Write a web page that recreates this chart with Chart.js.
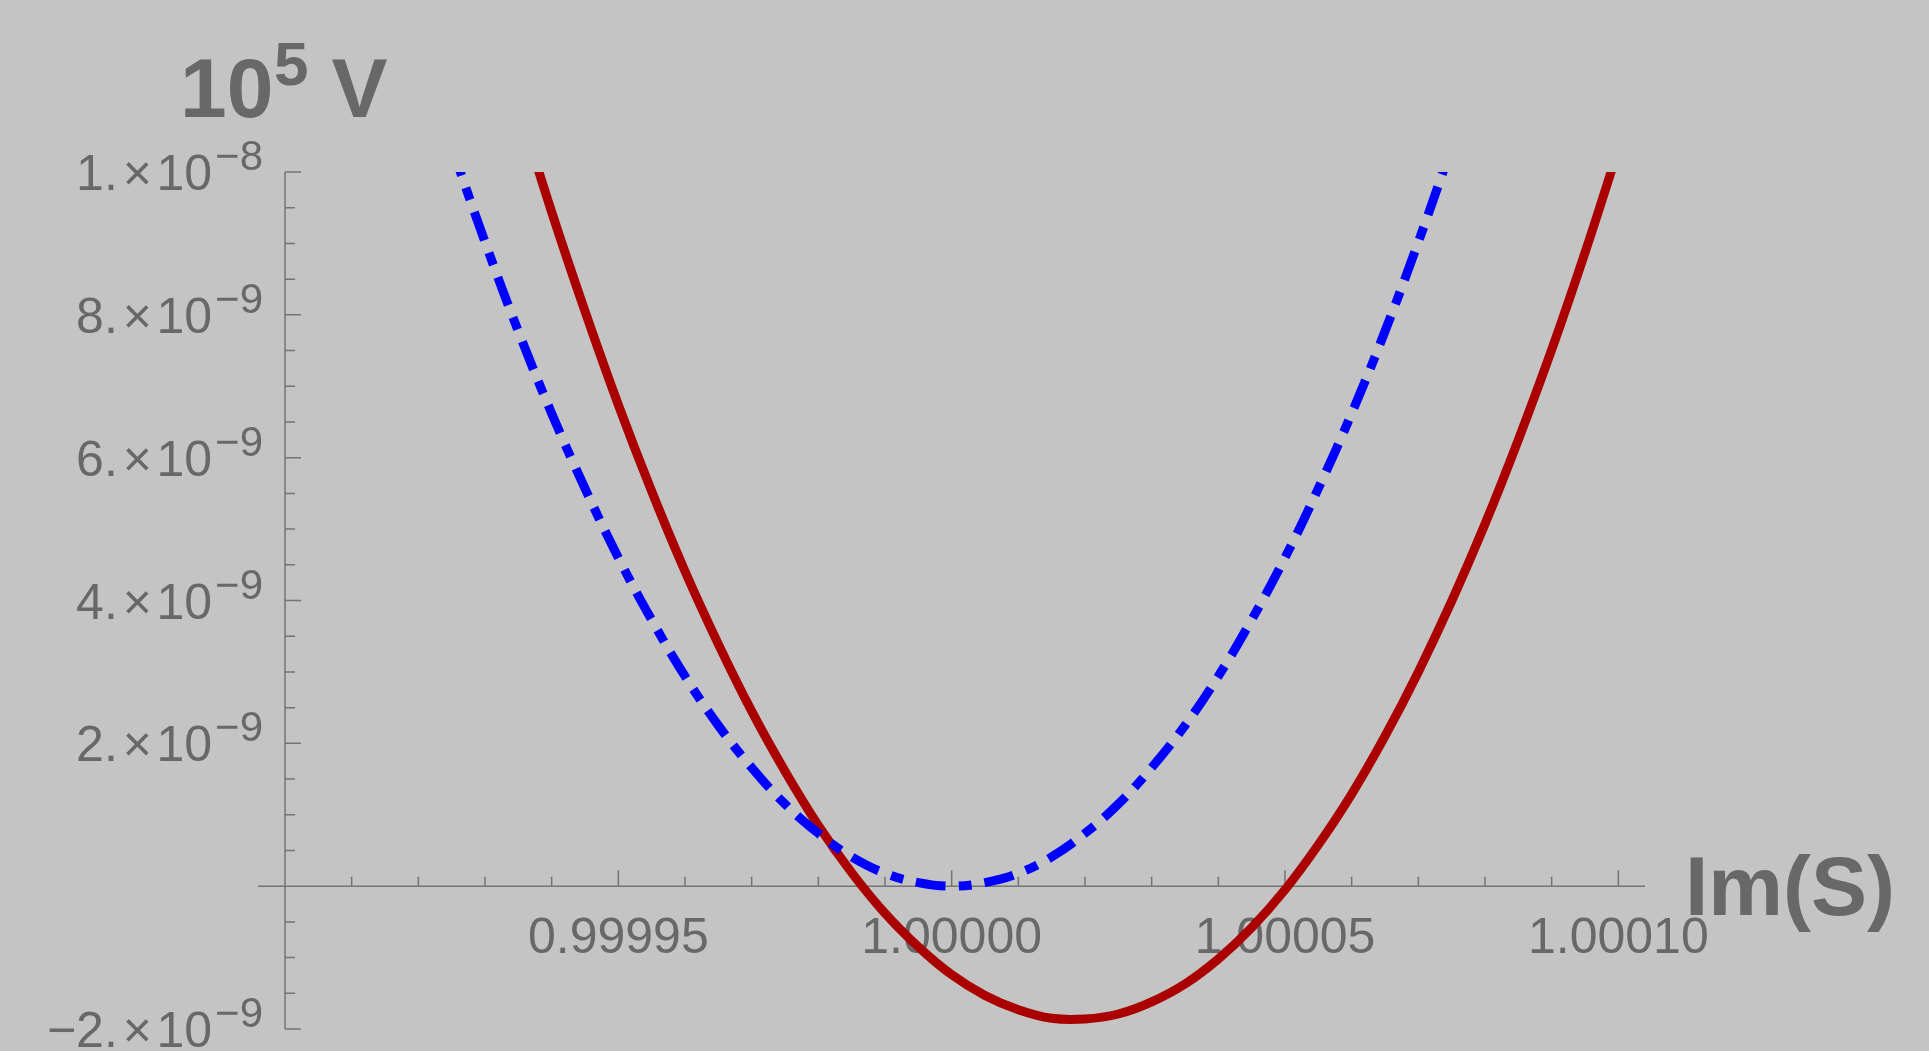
<!DOCTYPE html>
<html>
<head>
<meta charset="utf-8">
<title>10^5 V vs Im(S)</title>
<script src="https://cdn.jsdelivr.net/npm/chart.js@4.4.1/dist/chart.umd.min.js"></script>
<style>
  html, body { margin: 0; padding: 0; background: #c3c4c3; overflow: hidden; }
  canvas { display: block; }
</style>
</head>
<body>
<canvas id="chart" width="1929" height="1051"></canvas>
<script>
// ---------------------------------------------------------------------------
//  Data - V values in units of 1e-9
// ---------------------------------------------------------------------------

const blueX = [
  0.999925, 0.99993, 0.999935, 0.99994, 0.999945, 0.99995, 0.999955, 0.99996,
  0.999965, 0.99997, 0.999975, 0.99998, 0.999985, 0.99999, 0.999995, 1.0,
  1.000005, 1.00001, 1.000015, 1.00002, 1.000025, 1.00003, 1.000035, 1.00004,
  1.000045, 1.00005, 1.000055, 1.00006, 1.000065, 1.00007, 1.000075,
];
const blueV = [
  10.35, 9.02, 7.77, 6.62, 5.57, 4.60, 3.73, 2.94,
  2.25, 1.66, 1.15, 0.74, 0.41, 0.18, 0.05, 0.0,
  0.05, 0.18, 0.41, 0.74, 1.15, 1.66, 2.25, 2.94,
  3.73, 4.60, 5.57, 6.62, 7.77, 9.02, 10.35,
];

const redX = [
  0.999935, 0.99994, 0.999945, 0.99995, 0.999955, 0.99996, 0.999965, 0.99997,
  0.999975, 0.99998, 0.999985, 0.99999, 0.999995, 1.0, 1.000005, 1.00001,
  1.000015, 1.00002, 1.000025, 1.00003, 1.000035, 1.00004, 1.000045, 1.00005,
  1.000055, 1.00006, 1.000065, 1.00007, 1.000075, 1.00008, 1.000085, 1.00009,
  1.000095, 1.0001,
];
const redV = [
  10.93, 9.44, 8.05, 6.74, 5.53, 4.41, 3.39, 2.45,
  1.61, 0.85, 0.19, -0.38, -0.85, -1.24, -1.53, -1.73,
  -1.85, -1.86, -1.79, -1.62, -1.37, -1.02, -0.58, -0.05,
  0.58, 1.29, 2.10, 3.00, 3.99, 5.07, 6.25, 7.51,
  8.87, 10.32,
];

// ticks
const xMajor       = [0.99995, 1.0, 1.00005, 1.0001];
const xMajorLabels = ['0.99995', '1.00000', '1.00005', '1.00010'];
const xMinor       = [0.99991, 0.99992, 0.99993, 0.99994, 0.99996, 0.99997, 0.99998, 0.99999,
                      1.00001, 1.00002, 1.00003, 1.00004, 1.00006, 1.00007, 1.00008, 1.00009];

const yMajor     = [-2, 2, 4, 6, 8, 10];            // x 1e-9
const yMantissa  = ['\u22122.', '2.', '4.', '6.', '8.', '1.'];
const yExponent  = ['\u22129', '\u22129', '\u22129', '\u22129', '\u22129', '\u22128'];
const yMinor     = [-1.5, -1, -0.5, 0.5, 1, 1.5, 2.5, 3, 3.5, 4.5, 5, 5.5,
                    6.5, 7, 7.5, 8.5, 9, 9.5];

const X_MIN = 0.9999, X_MAX = 1.000104;
const Y_MIN = -2, Y_MAX = 10;

const FONT       = '"Liberation Sans", Arial, Helvetica, sans-serif';
const TEXT_COLOR = '#686868';
const AXIS_COLOR = '#747474';

// ---------------------------------------------------------------------------
//  Mathematica-style axes (drawn through the chart scales)
// ---------------------------------------------------------------------------

function drawSci(ctx, mant, exp, right, cy) {
  const base = cy + 18;
  ctx.font = `50px ${FONT}`;
  const wM  = ctx.measureText(mant).width;
  const wX  = ctx.measureText('\u00d7').width;
  const w10 = ctx.measureText('10').width;
  ctx.font = `42px ${FONT}`;
  const wE  = ctx.measureText(exp).width;

  let x = right - (wM + 5 + wX + 4.5 + w10 + 3 + wE);
  ctx.font = `50px ${FONT}`;
  ctx.fillText(mant, x, base);        x += wM + 5;
  ctx.fillText('\u00d7', x, base);    x += wX + 4.5;
  ctx.fillText('10', x, base);        x += w10 + 3;
  ctx.font = `42px ${FONT}`;
  ctx.fillText(exp, x, base - 20);
}

const axesPlugin = {
  id: 'mmaAxes',
  beforeDatasetsDraw(chart) {
    const { ctx, chartArea: a, scales: { x, y } } = chart;
    const y0 = y.getPixelForValue(0);
    const xL = x.getPixelForValue(X_MIN);

    ctx.save();
    ctx.strokeStyle = AXIS_COLOR;
    ctx.lineWidth = 1.5;
    ctx.beginPath();
    ctx.moveTo(xL - 27, y0);  ctx.lineTo(a.right, y0);
    ctx.moveTo(xL, a.top);    ctx.lineTo(xL, a.bottom);

    xMajor.forEach(v => { const px = x.getPixelForValue(v); ctx.moveTo(px, y0); ctx.lineTo(px, y0 - 16); });
    xMinor.forEach(v => { const px = x.getPixelForValue(v); ctx.moveTo(px, y0); ctx.lineTo(px, y0 - 9.5); });
    yMajor.forEach(v => { const py = y.getPixelForValue(v); ctx.moveTo(xL, py); ctx.lineTo(xL + 16, py); });
    yMinor.forEach(v => { const py = y.getPixelForValue(v); ctx.moveTo(xL, py); ctx.lineTo(xL + 10, py); });
    ctx.stroke();

    // tick labels
    ctx.fillStyle = TEXT_COLOR;
    ctx.font = `50px ${FONT}`;
    ctx.textAlign = 'center';
    ctx.textBaseline = 'alphabetic';
    xMajor.forEach((v, i) => ctx.fillText(xMajorLabels[i], x.getPixelForValue(v), y0 + 67));

    ctx.textAlign = 'left';
    yMajor.forEach((v, i) => drawSci(ctx, yMantissa[i], yExponent[i], xL - 22, y.getPixelForValue(v)));

    // axis labels
    ctx.font = `bold 84px ${FONT}`;
    ctx.fillText('10', xL - 105, a.top - 55);
    ctx.font = `bold 62px ${FONT}`;
    ctx.fillText('5', xL - 11, a.top - 87);
    ctx.font = `bold 84px ${FONT}`;
    ctx.fillText('V', xL + 46.5, a.top - 55);
    ctx.fillText('Im(S)', a.right + 40, y0 + 29);
    ctx.restore();
  },
};

// ---------------------------------------------------------------------------
//  Chart
// ---------------------------------------------------------------------------

const toPoints = (xs, vs) => xs.map((v, i) => ({ x: v, y: vs[i] }));

new Chart(document.getElementById('chart'), {
  type: 'line',
  data: {
    datasets: [
      { label: 'blue', data: toPoints(blueX, blueV),
        borderColor: '#0000ff', borderWidth: 9, borderDash: [30, 13, 13, 13],
        pointRadius: 0, tension: 0.4, clip: 0, fill: false },
      { label: 'red', data: toPoints(redX, redV),
        borderColor: '#aa0000', borderWidth: 9,
        pointRadius: 0, tension: 0.4, clip: 0, fill: false },
    ],
  },
  options: {
    responsive: false,
    devicePixelRatio: 1,
    animation: false,
    layout: { autoPadding: false, padding: { left: 285, right: 284, top: 172, bottom: 22 } },
    plugins: { legend: { display: false }, tooltip: { enabled: false }, title: { display: false } },
    scales: {
      x: { type: 'linear', min: X_MIN, max: X_MAX, display: false },
      y: { type: 'linear', min: Y_MIN, max: Y_MAX, display: false },
    },
  },
  plugins: [axesPlugin],
});
</script>
</body>
</html>
